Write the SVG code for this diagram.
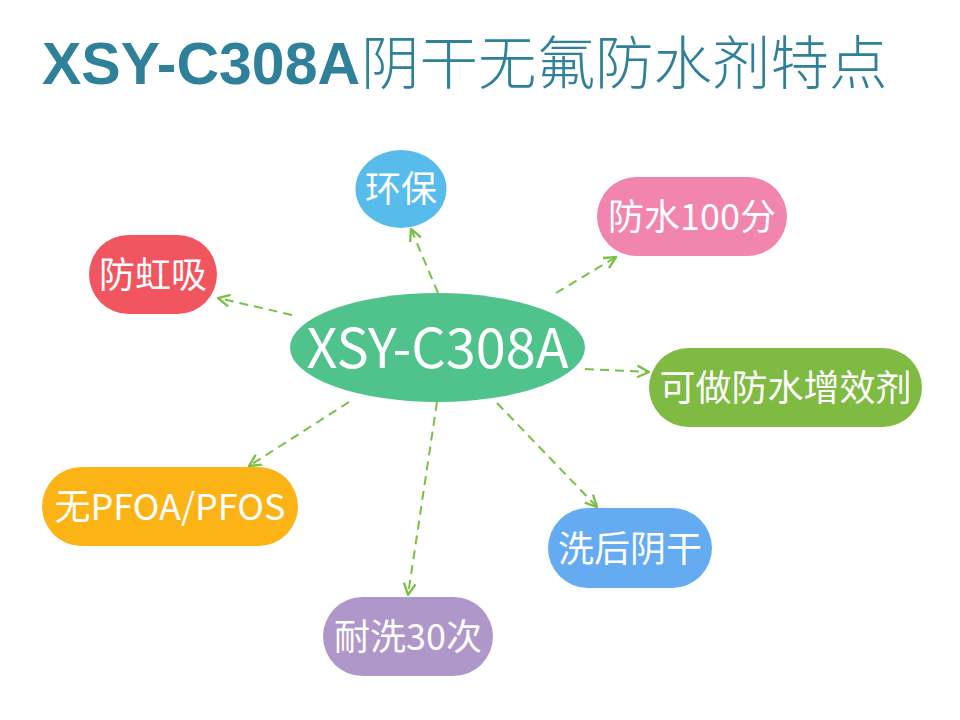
<svg xmlns="http://www.w3.org/2000/svg" width="960" height="720" viewBox="0 0 960 720">
<style>
.node-text{font-family:"Noto Sans CJK SC","Noto Sans",sans-serif;font-size:36px;fill:#ffffff;text-anchor:middle}
.conn{fill:none;stroke:#79C143;stroke-width:2;stroke-dasharray:9 6;marker-end:url(#arrow)}
</style>
<defs>
<marker id="arrow" markerUnits="userSpaceOnUse" markerWidth="14" markerHeight="14" viewBox="0 0 12 12" refX="11" refY="6" orient="auto">
<path d="M1,1 L11,6 L1,11" fill="none" stroke="#79C143" stroke-width="2"/>
</marker>
</defs>
<rect width="960" height="720" fill="#ffffff"/>
<g id="title">
<text x="42" y="84" fill="#2E8198"><tspan font-family="'Liberation Sans',Arial,sans-serif" font-weight="bold" font-size="59">XSY-C308A</tspan><tspan font-family="'Noto Sans CJK SC',sans-serif" font-weight="300" font-size="58.5" dx="1">阴干无氟防水剂特点</tspan></text>
</g>
<g id="connectors">
<line class="conn" x1="438" y1="293" x2="411" y2="229"/>
<line class="conn" x1="556" y1="293" x2="616" y2="257"/>
<line class="conn" x1="585" y1="369" x2="649" y2="372"/>
<line class="conn" x1="497" y1="403" x2="597" y2="507"/>
<line class="conn" x1="437" y1="402" x2="408" y2="595"/>
<line class="conn" x1="349" y1="402" x2="249" y2="466"/>
<line class="conn" x1="292" y1="315" x2="218" y2="298"/>
</g>
<g id="center">
<ellipse cx="437.5" cy="347.5" rx="147.5" ry="54.5" fill="#50C38C"/>
<text x="437.5" y="368" font-family="'Noto Sans CJK SC','Noto Sans',sans-serif" font-size="54" fill="#ffffff" text-anchor="middle">XSY-C308A</text>
</g>
<g id="node-huanbao">
<ellipse cx="401" cy="189" rx="45.5" ry="39" fill="#57BCEB"/>
<text class="node-text" x="401" y="202">环保</text>
</g>
<g id="node-fangshui100">
<rect x="597" y="177" width="190" height="79" rx="39.5" fill="#F285AD"/>
<text class="node-text" x="692" y="230">防水100分</text>
</g>
<g id="node-zengxiao">
<rect x="649" y="348" width="273" height="79" rx="39.5" fill="#7FBB42"/>
<text class="node-text" x="785.5" y="401">可做防水增效剂</text>
</g>
<g id="node-xihou">
<rect x="548" y="508" width="164" height="80" rx="40" fill="#64ABF2"/>
<text class="node-text" x="630" y="561.5">洗后阴干</text>
</g>
<g id="node-pfoa">
<rect x="42" y="467" width="256" height="79" rx="39.5" fill="#FBB316"/>
<text class="node-text" x="170" y="520">无PFOA/PFOS</text>
</g>
<g id="node-naixi">
<rect x="323" y="597" width="170" height="79" rx="39.5" fill="#B097C9"/>
<text class="node-text" x="408" y="650">耐洗30次</text>
</g>
<g id="node-hongxi">
<rect x="89" y="235" width="128" height="79" rx="39.5" fill="#F1555F"/>
<text class="node-text" x="153" y="288">防虹吸</text>
</g>
</svg>
